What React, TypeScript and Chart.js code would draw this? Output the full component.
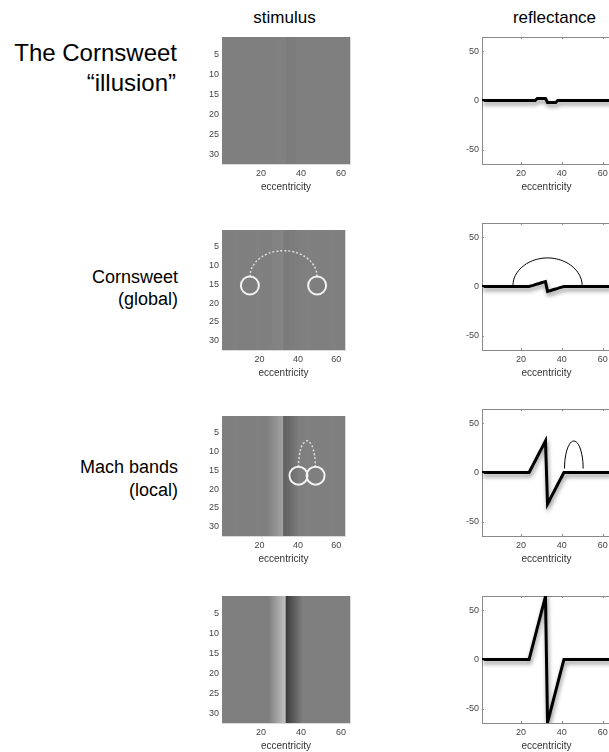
import React, { useEffect, useRef } from 'react';
import { Chart, registerables } from 'chart.js';

Chart.register(...registerables);

// ---------- data ----------
const eccentricity = [
  1, 2, 3, 4, 5, 6, 7, 8, 9, 10, 11, 12, 13, 14, 15, 16, 17, 18, 19, 20, 21, 22, 23, 24, 25, 26, 27, 28, 29, 30, 31, 32,
  33, 34, 35, 36, 37, 38, 39, 40, 41, 42, 43, 44, 45, 46, 47, 48, 49, 50, 51, 52, 53, 54, 55, 56, 57, 58, 59, 60, 61, 62, 63, 64,
];

// reflectance profiles (one value per image column)
const reflIllusion = [
  0, 0, 0, 0, 0, 0, 0, 0, 0, 0, 0, 0, 0, 0, 0, 0, 0, 0, 0, 0, 0, 0, 0, 0, 0, 0, 0,
  2, 2, 2, 2, 2,
  -2, -2, -2, -2, -2,
  0, 0, 0, 0, 0, 0, 0, 0, 0, 0, 0, 0, 0, 0, 0, 0, 0, 0, 0, 0, 0, 0, 0, 0, 0, 0, 0,
];
const reflGlobal = [
  0, 0, 0, 0, 0, 0, 0, 0, 0, 0, 0, 0, 0, 0, 0, 0, 0, 0, 0, 0, 0, 0, 0, 0,
  0.6, 1.2, 1.9, 2.5, 3.1, 3.8, 4.4, 5,
  -5, -4.4, -3.8, -3.1, -2.5, -1.9, -1.2, -0.6,
  0, 0, 0, 0, 0, 0, 0, 0, 0, 0, 0, 0, 0, 0, 0, 0, 0, 0, 0, 0, 0, 0, 0, 0,
];
const reflMach = [
  0, 0, 0, 0, 0, 0, 0, 0, 0, 0, 0, 0, 0, 0, 0, 0, 0, 0, 0, 0, 0, 0, 0, 0,
  4, 8, 12, 16, 20, 24, 28, 32,
  -32, -28, -24, -20, -16, -12, -8, -4,
  0, 0, 0, 0, 0, 0, 0, 0, 0, 0, 0, 0, 0, 0, 0, 0, 0, 0, 0, 0, 0, 0, 0, 0,
];
const reflStrong = [
  0, 0, 0, 0, 0, 0, 0, 0, 0, 0, 0, 0, 0, 0, 0, 0, 0, 0, 0, 0, 0, 0, 0, 0,
  8, 16, 24, 32, 40, 48, 56, 64,
  -64, -56, -48, -40, -32, -24, -16, -8,
  0, 0, 0, 0, 0, 0, 0, 0, 0, 0, 0, 0, 0, 0, 0, 0, 0, 0, 0, 0, 0, 0, 0, 0,
];

// arcs on reflectance plots
const globalArcX = [16, 16.58, 18.28, 20.98, 24.5, 28.6, 33, 37.4, 41.5, 45.02, 47.72, 49.42, 50];
const globalArcY = [0, 7.5, 14.5, 20.5, 25.1, 28.0, 29, 28.0, 25.1, 20.5, 14.5, 7.5, 0];
const localArcX = [41.3, 41.45, 41.91, 42.63, 43.58, 44.67, 45.85, 47.03, 48.13, 49.07, 49.79, 50.25, 50.4];
const localArcY = [4, 11.25, 18, 23.8, 28.25, 31.05, 32, 31.05, 28.25, 23.8, 18, 11.25, 4];

// dotted arcs and circles on stimulus images
const globalDotX = [15, 15.6, 17.34, 20.13, 23.75, 27.97, 32.5, 37.03, 41.25, 44.87, 47.66, 49.4, 50];
const globalDotY = [13, 11.19, 9.5, 8.05, 6.94, 6.24, 6, 6.24, 6.94, 8.05, 9.5, 11.19, 13];
const globalCircleX = [15, 50];
const globalCircleY = [15.3, 15.3];
const localDotX = [40.3, 40.45, 40.89, 41.59, 42.5, 44.7, 46.9, 47.81, 48.51, 48.95, 49.1];
const localDotY = [14.1, 12.29, 10.6, 9.15, 8.04, 7.1, 8.04, 9.15, 10.6, 12.29, 14.1];
const localCircleX = [40.3, 49.2];
const localCircleY = [16.4, 16.4];

// tick labels
const stimXTicks = [20, 40, 60];
const stimYTicks = [5, 10, 15, 20, 25, 30];
const reflXTicks = [20, 40, 60];
const reflYTicks = [-50, 0, 50];

// ---------- helpers ----------
const TICK_FONT = { family: "'Liberation Sans', Arial, sans-serif", size: 9 };
const TITLE_FONT = { family: "'Liberation Sans', Arial, sans-serif", size: 10 };
const TICK_COLOR = '#444444';

const pts = (xs: number[], ys: number[]) => xs.map((x, i) => ({ x, y: ys[i] }));
const grayOf = (v: number) => {
  const g = Math.round(127 + v);
  return `rgb(${g},${g},${g})`;
};
const fixTicks = (vals: number[]) => (scale: any) => {
  scale.ticks = vals.map((v) => ({ value: v }));
};
const fitSize = (w: number | null, h: number | null) => (s: any) => {
  if (w !== null) s.width = w;
  if (h !== null) s.height = h;
  s.paddingTop = 0;
  s.paddingBottom = 0;
  s.paddingLeft = 0;
  s.paddingRight = 0;
};

const shadowPlugin = {
  id: 'lineShadow',
  beforeDatasetDraw(chart: any, args: any) {
    const ds = chart.data.datasets[args.index];
    if (!ds.shadow) return;
    const ctx = chart.ctx;
    ctx.save();
    ctx.shadowColor = 'rgba(0,0,0,0.45)';
    ctx.shadowBlur = 4;
    ctx.shadowOffsetX = 1;
    ctx.shadowOffsetY = 3;
  },
  afterDatasetDraw(chart: any, args: any) {
    const ds = chart.data.datasets[args.index];
    if (ds.shadow) chart.ctx.restore();
  },
};

// small inward tick marks on the box (MATLAB style)
const innerTicksPlugin = {
  id: 'innerTicks',
  afterDraw(chart: any) {
    const { ctx, chartArea } = chart;
    const sx = chart.scales.x;
    const sy = chart.scales.y;
    ctx.save();
    ctx.strokeStyle = '#8a8a8a';
    ctx.lineWidth = 1;
    ctx.beginPath();
    sx.ticks.forEach((t: any) => {
      const px = Math.round(sx.getPixelForValue(t.value)) + 0.5;
      ctx.moveTo(px, chartArea.top);
      ctx.lineTo(px, chartArea.top + 2);
      ctx.moveTo(px, chartArea.bottom);
      ctx.lineTo(px, chartArea.bottom - 2);
    });
    sy.ticks.forEach((t: any) => {
      const py = Math.round(sy.getPixelForValue(t.value)) + 0.5;
      ctx.moveTo(chartArea.right, py);
      ctx.lineTo(chartArea.right - 2, py);
      ctx.moveTo(chartArea.left, py);
      ctx.lineTo(chartArea.left + 2, py);
    });
    ctx.stroke();
    ctx.restore();
  },
};

const PLOT_H = 127;
const PAD_TOP = 4;
const XAXIS_H = 30;

function stimulusConfig(values: number[], dotX?: number[], dotY?: number[], cX?: number[], cY?: number[]) {
  const datasets: any[] = [];
  if (cX && cY) {
    datasets.push({
      type: 'line',
      data: pts(cX, cY),
      showLine: false,
      pointStyle: 'circle',
      pointRadius: 9,
      pointBackgroundColor: 'rgba(0,0,0,0)',
      pointBorderColor: '#f2f2f2',
      pointBorderWidth: 2,
      order: 1,
    });
  }
  if (dotX && dotY) {
    datasets.push({
      type: 'line',
      data: pts(dotX, dotY),
      borderColor: '#dddddd',
      borderWidth: 1.5,
      borderDash: [2, 2],
      pointRadius: 0,
      tension: 0.4,
      order: 2,
    });
  }
  datasets.push({
    type: 'bar',
    data: eccentricity.map((x) => ({ x, y: [0.5, 32.5] })),
    backgroundColor: values.map(grayOf),
    borderWidth: 0,
    barPercentage: 1,
    categoryPercentage: 1,
    order: 3,
  });
  const frame = '#dadada';
  return {
    type: 'bar',
    data: { datasets },
    options: {
      animation: false,
      responsive: false,
      maintainAspectRatio: false,
      layout: { padding: { top: PAD_TOP, right: 6, left: 0, bottom: 0 } },
      plugins: { legend: { display: false }, tooltip: { enabled: false } },
      scales: {
        x: {
          type: 'linear',
          min: 0.5,
          max: 64.5,
          offset: false,
          z: 1,
          grid: { display: false, drawTicks: false },
          border: { display: true, color: frame },
          ticks: { font: TICK_FONT, color: TICK_COLOR, padding: 4, autoSkip: false, maxRotation: 0 },
          afterBuildTicks: fixTicks(stimXTicks),
          title: { display: true, text: 'eccentricity', font: TITLE_FONT, color: '#333333', padding: { top: 0, bottom: 1 } },
          afterFit: fitSize(null, XAXIS_H),
        },
        x2: {
          type: 'linear',
          position: 'top',
          min: 0.5,
          max: 64.5,
          z: 1,
          grid: { display: false, drawTicks: false },
          border: { display: true, color: frame },
          ticks: { display: false },
          afterFit: fitSize(null, 0),
        },
        y: {
          type: 'linear',
          reverse: true,
          min: 0.5,
          max: 32.5,
          z: 1,
          grid: { display: false, drawTicks: false },
          border: { display: true, color: frame },
          ticks: { font: TICK_FONT, color: TICK_COLOR, padding: 3, autoSkip: false },
          afterBuildTicks: fixTicks(stimYTicks),
          afterFit: fitSize(32, null),
        },
        y2: {
          type: 'linear',
          position: 'right',
          reverse: true,
          min: 0.5,
          max: 32.5,
          z: 1,
          grid: { display: false, drawTicks: false },
          border: { display: true, color: frame },
          ticks: { display: false },
          afterFit: fitSize(0, null),
        },
      },
    },
  };
}

function reflectanceConfig(values: number[], arcX?: number[], arcY?: number[]) {
  const datasets: any[] = [
    {
      data: pts(eccentricity, values),
      borderColor: '#000000',
      borderWidth: 3,
      pointRadius: 0,
      tension: 0,
      shadow: true,
      borderJoinStyle: 'miter',
    },
  ];
  if (arcX && arcY) {
    datasets.push({
      data: pts(arcX, arcY),
      borderColor: '#000000',
      borderWidth: 1,
      pointRadius: 0,
      tension: 0.4,
    });
  }
  const frame = '#8a8a8a';
  return {
    type: 'line',
    data: { datasets },
    plugins: [shadowPlugin, innerTicksPlugin],
    options: {
      animation: false,
      responsive: false,
      maintainAspectRatio: false,
      layout: { padding: { top: PAD_TOP, right: 6, left: 0, bottom: 0 } },
      plugins: { legend: { display: false }, tooltip: { enabled: false } },
      scales: {
        x: {
          type: 'linear',
          min: 1,
          max: 64,
          grid: { display: false, drawTicks: false },
          border: { display: true, color: frame },
          ticks: { font: TICK_FONT, color: TICK_COLOR, padding: 4, autoSkip: false, maxRotation: 0 },
          afterBuildTicks: fixTicks(reflXTicks),
          title: { display: true, text: 'eccentricity', font: TITLE_FONT, color: '#333333', padding: { top: 0, bottom: 1 } },
          afterFit: fitSize(null, XAXIS_H),
        },
        x2: {
          type: 'linear',
          position: 'top',
          min: 1,
          max: 64,
          grid: { display: false, drawTicks: false },
          border: { display: true, color: frame },
          ticks: { display: false },
          afterFit: fitSize(null, 0),
        },
        y: {
          type: 'linear',
          min: -64.5,
          max: 64.5,
          grid: { display: false, drawTicks: false },
          border: { display: true, color: frame },
          ticks: { font: TICK_FONT, color: TICK_COLOR, padding: 3, autoSkip: false },
          afterBuildTicks: fixTicks(reflYTicks),
          afterFit: fitSize(34, null),
        },
        y2: {
          type: 'linear',
          position: 'right',
          min: -64.5,
          max: 64.5,
          grid: { display: false, drawTicks: false },
          border: { display: true, color: frame },
          ticks: { display: false },
          afterFit: fitSize(0, null),
        },
      },
    },
  };
}

function ChartBox(props: { left: number; top: number; width: number; height: number; make: () => any }) {
  const ref = useRef<HTMLCanvasElement>(null);
  useEffect(() => {
    const chart = new Chart(ref.current as HTMLCanvasElement, props.make());
    return () => chart.destroy();
  }, []);
  return (
    <div style={{ position: 'absolute', left: props.left, top: props.top, width: props.width, height: props.height }}>
      <canvas ref={ref} width={props.width} height={props.height} style={{ display: 'block', width: props.width, height: props.height }} />
    </div>
  );
}

const ROW_TOPS = [37, 223, 409, 596];
const STIM_LEFT = 222 - 32;
const STIM_W = 32 + 128 + 6;
const REFL_LEFT = 482 - 34;
const REFL_W = 34 + 129 + 6;
const BOX_H = PAD_TOP + PLOT_H + XAXIS_H;

const textBase: React.CSSProperties = {
  position: 'absolute',
  fontFamily: "'Liberation Sans', Arial, Helvetica, sans-serif",
  color: '#000',
  whiteSpace: 'nowrap',
  lineHeight: 1,
};

function Label(props: { text: string; size: number; baseline: number; right?: number; center?: number }) {
  const top = props.baseline - 0.8465 * props.size;
  const style: React.CSSProperties = { ...textBase, fontSize: props.size, top };
  if (props.right !== undefined) {
    style.right = 609 - props.right;
    style.textAlign = 'right';
  } else if (props.center !== undefined) {
    style.left = props.center - 100;
    style.width = 200;
    style.textAlign = 'center';
  }
  return <div style={style}>{props.text}</div>;
}

export default function App() {
  const stimRows = [
    () => stimulusConfig(reflIllusion),
    () => stimulusConfig(reflGlobal, globalDotX, globalDotY, globalCircleX, globalCircleY),
    () => stimulusConfig(reflMach, localDotX, localDotY, localCircleX, localCircleY),
    () => stimulusConfig(reflStrong),
  ];
  const reflRows = [
    () => reflectanceConfig(reflIllusion),
    () => reflectanceConfig(reflGlobal, globalArcX, globalArcY),
    () => reflectanceConfig(reflMach, localArcX, localArcY),
    () => reflectanceConfig(reflStrong),
  ];
  return (
    <div style={{ position: 'absolute', left: 0, top: 0, width: 609, height: 752, overflow: 'hidden', background: '#fff' }}>
      <Label text="stimulus" size={17} baseline={23.3} center={284.5} />
      <Label text="reflectance" size={17} baseline={23.3} center={554.5} />

      <Label text="The Cornsweet" size={24} baseline={61.7} right={177} />
      <Label text="“illusion”" size={24} baseline={91} right={176} />
      <Label text="Cornsweet" size={18} baseline={283.3} right={178} />
      <Label text="(global)" size={18} baseline={305.5} right={178} />
      <Label text="Mach bands" size={18} baseline={473.3} right={178} />
      <Label text="(local)" size={18} baseline={496.7} right={178} />

      {stimRows.map((make, i) => (
        <ChartBox key={'s' + i} left={STIM_LEFT} top={ROW_TOPS[i] - PAD_TOP} width={STIM_W} height={BOX_H} make={make} />
      ))}
      {reflRows.map((make, i) => (
        <ChartBox key={'r' + i} left={REFL_LEFT} top={ROW_TOPS[i] - PAD_TOP} width={REFL_W} height={BOX_H} make={make} />
      ))}
    </div>
  );
}
